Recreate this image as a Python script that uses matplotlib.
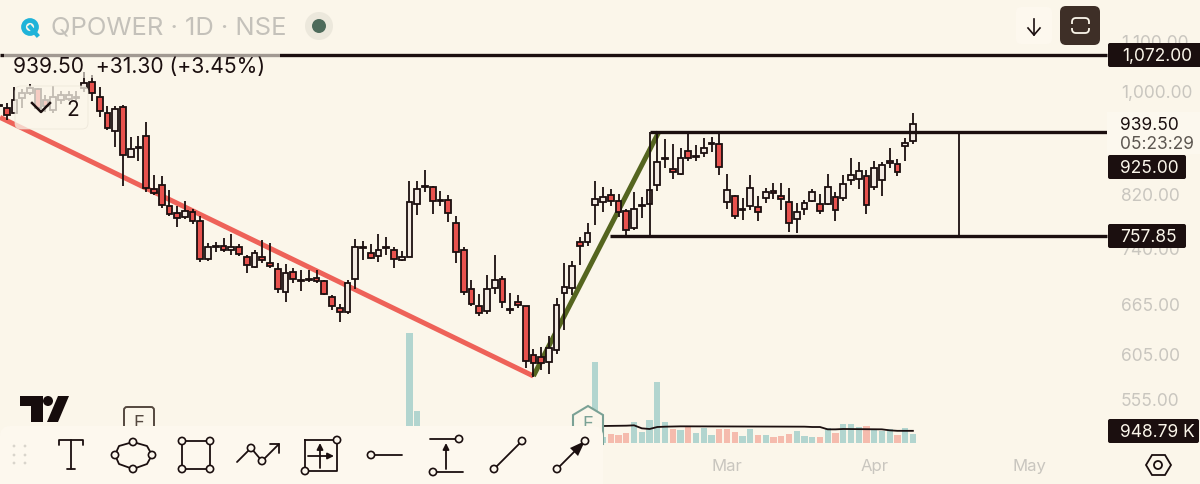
import matplotlib
matplotlib.use("Agg")
import matplotlib.pyplot as plt
from matplotlib.patches import Circle, FancyBboxPatch, Polygon, Rectangle

plt.rcParams["font.family"] = ["Inter", "DejaVu Sans"]

opens = [974, 968, 959, 987, 996, 1004, 983, 964, 983, 985, 987, 1006, 1017, 989, 959, 926, 970, 882, 897, 918,
         829, 836, 803, 792, 786, 794, 780, 726, 742, 744, 738, 742, 729, 715, 729, 720, 712, 682, 708, 696,
         697, 700, 696, 675, 661, 656, 699, 741, 734, 730, 741, 739, 724, 729, 806, 833, 833, 810, 812, 777,
         738, 686, 663, 657, 687, 699, 658, 669, 663, 604, 602, 596, 610, 680, 687, 749, 749, 804, 809, 820,
         810, 795, 770, 803, 806, 836, 878, 862, 854, 892, 882, 888, 904, 904, 809, 819, 797, 803, 801, 815,
         826, 819, 809, 783, 798, 810, 806, 806, 817, 815, 844, 846, 851, 833, 844, 875, 870, 900, 908.2]
highs = [977, 977, 1008, 1004, 1013, 1006, 992, 1010, 1000, 1000, 1000, 1037, 1031, 1008, 972, 972, 974, 916, 918, 943,
         852, 851, 828, 803, 810, 798, 788, 748, 749, 755, 761, 747, 731, 738, 752, 748, 720, 719, 714, 711,
         711, 711, 697, 678, 666, 697, 754, 751, 747, 761, 757, 742, 737, 842, 842, 860, 834, 826, 820, 788,
         742, 697, 679, 704, 731, 703, 680, 677, 664, 611, 613, 627, 674, 720, 723, 757, 777, 842, 833, 829,
         822, 798, 825, 817, 830, 925, 912, 904, 897, 923, 902, 914, 916, 923, 854, 820, 815, 852, 819, 831,
         839, 839, 831, 807, 812, 829, 822, 854, 825, 852, 880, 873, 860, 875, 873, 897, 878, 914, 959]
lows = [970, 946, 959, 968, 992, 964, 961, 959, 975, 981, 981, 998, 981, 952, 928, 898, 834, 882, 875, 825,
        820, 800, 788, 772, 783, 776, 722, 723, 735, 735, 731, 730, 707, 714, 720, 714, 680, 668, 693, 683,
        695, 693, 677, 658, 644, 654, 686, 724, 726, 722, 731, 714, 723, 729, 789, 825, 791, 803, 779, 720,
        677, 664, 651, 653, 679, 661, 654, 661, 589, 579, 587, 583, 605, 634, 678, 718, 744, 775, 794, 803,
        786, 757, 767, 785, 804, 826, 863, 846, 852, 875, 875, 882, 890, 852, 798, 783, 782, 797, 780, 807,
        814, 797, 764, 763, 789, 809, 791, 804, 780, 810, 836, 829, 791, 828, 819, 863, 851, 875, 904]
closes = [972, 955, 983, 996, 1006, 968, 972, 989, 992, 992, 989, 1015, 996, 963, 932, 966, 885, 895, 898, 831,
          823, 804, 791, 785, 795, 780, 726, 742, 744, 739, 742, 733, 718, 734, 724, 716, 686, 707, 699, 697,
          699, 696, 679, 663, 656, 693, 742, 742, 727, 739, 742, 726, 729, 809, 829, 834, 810, 812, 792, 735,
          682, 666, 655, 686, 697, 668, 660, 665, 597, 595, 595, 612, 665, 688, 716, 744, 763, 814, 817, 810,
          794, 767, 798, 804, 828, 873, 880, 857, 880, 880, 883, 897, 905, 865, 828, 788, 798, 831, 794, 825,
          823, 814, 777, 794, 807, 825, 795, 833, 797, 837, 852, 858, 804, 863, 868, 872, 857, 905, 939.5]

# volume in thousands, bars further left sit behind the toolbar
vol_days = [53, 54, 77, 78, 79, 80, 81, 82, 83, 84, 85, 86, 87, 88, 89, 90, 91, 92, 93, 94, 95, 96, 97, 98, 99, 100,
            101, 102, 103, 104, 105, 106, 107, 108, 109, 110, 111, 112, 113, 114, 115, 116, 117, 118]
vol_values = [8580, 2500, 6320, 442, 728, 598, 780, 1612, 832, 1768, 4732, 1664, 1092, 988, 1248, 806, 1196, 598,
              1118, 1066, 858, 572, 1066, 598, 598, 494, 520, 676, 962, 546, 468, 468, 1144, 806, 1482, 1482, 1274,
              1326, 1092, 910, 1118, 598, 1144, 728]
vol_up = [1, 1, 1, 1, 0, 0, 0, 1, 1, 1, 1, 1, 0, 1, 0, 1, 1, 1, 0, 0, 0, 1, 1, 0, 1, 0,
          0, 0, 1, 1, 1, 0, 1, 0, 1, 1, 1, 0, 1, 1, 1, 0, 1, 1]
vol_ma_days = [78, 81, 82, 83, 84, 85, 86, 88, 104, 105, 106, 107, 108, 109, 114, 115, 116, 118]
vol_ma = [1326, 1352, 1378, 1144, 1092, 1248, 1274, 1300, 1274, 1248, 1248, 1066, 1066, 1092, 1066, 988, 949, 949]

price_ticks = [1100, 1000, 820, 740, 665, 605, 555]
price_labels = ["1,100.00", "1,000.00", "820.00", "740.00", "665.00", "605.00", "555.00"]
date_ticks = [94, 113, 133]
date_labels = ["Mar", "Apr", "May"]

red_line_days = [0.13, 69]
red_line_prices = [951, 580.5]
green_line_days = [69, 85.2]
green_line_prices = [580.5, 925]
level_top = 1072.0
range_high = 925.0
range_low = 757.85
range_days = [84, 124]

BG = "#fbf6ea"
PANEL = "#fdf8ee"
INK = "#1b0f0f"
GREY = "#c9c6bf"
RED = "#e8524e"
WHITE = "#f3ebe3"

fig = plt.figure(figsize=(12, 4.85), dpi=100, facecolor=BG)
vol_ax = fig.add_axes([0, 0, 1, 1])
ax = fig.add_axes([0, 0, 1, 1])
ui = fig.add_axes([0, 0, 1, 1])
for a in (vol_ax, ax, ui):
    a.set_axis_off()

# price pane
ax.set_yscale("log")
ax.set_xlim(0.13, 155.07)
ax.set_ylim(472.4, 1192)
vol_ax.set_xlim(0.13, 155.07)
vol_ax.set_ylim(-3198, 34632)

vol_colors = ["#b2d5cf" if u else "#f5bbad" for u in vol_up]
vol_ax.bar(vol_days, vol_values, width=0.8, color=vol_colors)
vol_ax.plot(vol_ma_days, vol_ma, color=INK, lw=1.3)

ax.plot(red_line_days, red_line_prices, color="#ee6259", lw=3.6, zorder=1, solid_capstyle="butt")
ax.plot(green_line_days, green_line_prices, color="#55651f", lw=3.6, zorder=1, solid_capstyle="butt")

days = list(range(len(opens)))
ax.vlines(days, lows, highs, color=INK, lw=1.3, zorder=2)
body_colors = [WHITE if c >= o else RED for o, c in zip(opens, closes)]
body_low = [min(o, c) for o, c in zip(opens, closes)]
body_size = [abs(c - o) for o, c in zip(opens, closes)]
ax.bar(days, body_size, bottom=body_low, width=0.74, color=body_colors, edgecolor=INK, linewidth=1.3, zorder=3)

line_end = (1107 + 1) / 7.745
ax.hlines(level_top, 0.13, line_end, color=INK, lw=2.4, zorder=4)
ax.hlines(range_high, range_days[0], line_end, color=INK, lw=2.4, zorder=4)
ax.hlines(range_low, 78.9, line_end, color=INK, lw=2.4, zorder=4)
ax.vlines(range_days, range_low, range_high, color=INK, lw=1.3, zorder=4)

tick_tf = ax.get_yaxis_transform()
for p, s in zip(price_ticks, price_labels):
    ax.annotate(s, (1121 / 1200, p), xycoords=tick_tf, xytext=(0, -0.7), textcoords="offset points",
                color=GREY, fontsize=12.5, va="center", zorder=5)
date_tf = ax.get_xaxis_transform()
for d, s in zip(date_ticks, date_labels):
    ax.text(d, 0.039, s, transform=date_tf, color=GREY, fontsize=12, ha="center", va="center", zorder=5)

# overlays in pixel coordinates: header, buttons, price tags, toolbar
ui.set_xlim(0, 1200)
ui.set_ylim(485, 0)


def box(x0, y0, x1, y1, color, radius=3, alpha=1.0, edge="none", z=6):
    ui.add_patch(FancyBboxPatch((x0, y0), x1 - x0, y1 - y0, boxstyle=f"round,pad=0,rounding_size={radius}",
                                facecolor=color, edgecolor=edge, lw=0.6, alpha=alpha, zorder=z))


def node(x, y):
    ui.add_patch(Circle((x, y), 3.6, facecolor=PANEL, edgecolor=INK, lw=1.2, zorder=12))


def seg(xs, ys, lw=1.3):
    ui.plot(xs, ys, color=INK, lw=lw, zorder=11, solid_capstyle="round")


def arrow(x0, y0, x1, y1):
    ui.annotate("", xy=(x1, y1), xytext=(x0, y0), zorder=11,
                arrowprops=dict(arrowstyle="-|>", color=INK, lw=1.3, mutation_scale=9, shrinkA=0, shrinkB=0))


# header
ui.add_patch(Rectangle((4, 48), 276, 31, facecolor=BG, alpha=0.6, zorder=6))
ui.add_patch(Circle((30, 28), 6.5, facecolor="none", edgecolor="#1fb3d9", lw=3.4, zorder=7))
ui.plot([30, 37], [28, 36], color="#1fb3d9", lw=3, zorder=7)
ui.text(51, 28, "QPOWER · 1D · NSE", color="#c4c1ba", fontsize=18.4, va="center", zorder=7)
ui.add_patch(Circle((319, 27), 14, facecolor="#ece8dc", zorder=7))
ui.add_patch(Circle((319, 27), 7, facecolor="#4e6b5b", zorder=7))
ui.text(13, 67, "939.50  +31.30 (+3.45%)", color=INK, fontsize=15.2, va="center", zorder=7)

box(15, 87, 88, 130, BG, radius=6, alpha=0.75, edge="#e9e3d6")
ui.plot([32, 41, 50], [104, 113, 104], color=INK, lw=1.8, zorder=7)
ui.text(73, 110, "2", color=INK, fontsize=15, ha="center", va="center", zorder=7)

# right side buttons
box(1016, 8, 1052, 45, PANEL, radius=5)
ui.plot([1034, 1034], [20, 36], color=INK, lw=1.2, zorder=7)
ui.plot([1028, 1034, 1040], [29, 36, 29], color=INK, lw=1.2, zorder=7)
box(1060, 7, 1100, 46, "#3e2f27", radius=6)
box(1072, 19, 1089, 34, "none", radius=4, edge=BG, z=7)
ui.patches[-1].set_linewidth(1.3)
ui.add_patch(Rectangle((1068, 25), 26, 3.5, facecolor="#3e2f27", zorder=8))

# price tags
box(1108, 44, 1204, 68, INK, radius=2)
ui.text(1122, 56, "1,072.00", color=BG, fontsize=12.5, va="center", zorder=7)
ui.add_patch(Rectangle((1107, 113), 93, 42, facecolor="#fcf8ee", zorder=5.5))
ui.text(1120, 126, "939.50", color=INK, fontsize=12.5, va="center", zorder=7)
ui.text(1120, 145, "05:23:29", color="#5c5650", fontsize=12.5, va="center", zorder=7)
box(1108, 156, 1186, 180, INK, radius=2)
ui.text(1120, 169, "925.00", color=BG, fontsize=12.5, va="center", zorder=7)
box(1108, 225, 1186, 249, INK, radius=2)
ui.text(1120, 238, "757.85", color=BG, fontsize=12.5, va="center", zorder=7)
box(1108, 420, 1199, 444, INK, radius=2)
ui.text(1120, 433, "948.79 K", color=BG, fontsize=12.5, va="center", zorder=7)

# settings hexagon
ui.add_patch(Polygon([(1146, 466), (1152, 456), (1165, 456), (1171, 466), (1165, 476), (1152, 476)],
                     closed=True, facecolor="none", edgecolor=INK, lw=1.3, zorder=7))
ui.add_patch(Circle((1158, 466), 4, facecolor="none", edgecolor=INK, lw=1.3, zorder=7))

# tradingview logo and earnings badges
ui.add_patch(Polygon([(20, 397), (43, 397), (43, 423), (31, 423), (31, 407), (20, 407)], closed=True,
                     facecolor="#160c0c", zorder=7))
ui.add_patch(Circle((48, 402), 5, facecolor="#160c0c", zorder=7))
ui.add_patch(Polygon([(58, 397), (69, 397), (58, 423), (47, 423)], closed=True, facecolor="#160c0c", zorder=7))
box(124, 408, 154, 440, BG, radius=3, edge="#54483f", z=6)
ui.patches[-1].set_linewidth(1.4)
ui.text(139, 424, "E", color="#54483f", fontsize=13, ha="center", va="center", zorder=7)
ui.add_patch(Polygon([(573, 416), (588, 407), (603, 416), (603, 445), (573, 445)], closed=True,
                     facecolor=BG, edgecolor="#7aa195", lw=1.5, zorder=7))
ui.text(588, 425, "E", color="#7aa195", fontsize=13, ha="center", va="center", zorder=7)

# drawing toolbar
box(0, 427, 603, 495, PANEL, radius=10, z=9)
for gx in (14, 25):
    for gy in (447, 456, 464):
        ui.add_patch(Circle((gx, gy), 1.4, facecolor="#d9d5cc", zorder=11))

seg([59, 59, 83, 83], [446, 441, 441, 446])
seg([71, 71], [441, 470])
seg([67, 75], [470, 470])

t = [(152, 456), (147, 447), (133, 443), (119, 447), (115, 456), (119, 465), (133, 470), (147, 465), (152, 456)]
seg([p[0] for p in t], [p[1] for p in t])
for p in (t[0], t[2], t[4], t[6]):
    node(*p)

seg([182, 210, 210, 182, 182], [442, 442, 470, 470, 442])
for p in ((182, 442), (210, 442), (210, 470), (182, 470)):
    node(*p)

seg([237, 251, 262, 279], [463, 449, 462, 445])
seg([270, 279, 279], [445, 445, 454])
node(251, 449)
node(262, 462)

seg([305, 337, 337, 305, 305], [441, 441, 472, 472, 441])
arrow(320, 469, 320, 444)
arrow(308, 457, 334, 457)
node(337, 441)
node(305, 472)

seg([371, 402], [456, 456])
node(371, 456)

seg([430, 459], [440, 440])
seg([433, 463], [473, 473])
arrow(446, 470, 446, 444)
node(459, 440)
node(433, 473)

seg([494, 522], [470, 442])
node(494, 470)
node(522, 442)

seg([557, 585], [470, 442])
ui.add_patch(Polygon([(585, 442), (570, 449), (578, 457)], closed=True, facecolor=INK, zorder=11))
node(557, 470)
node(585, 442)

fig.savefig("out.png", dpi=100, facecolor=BG)
